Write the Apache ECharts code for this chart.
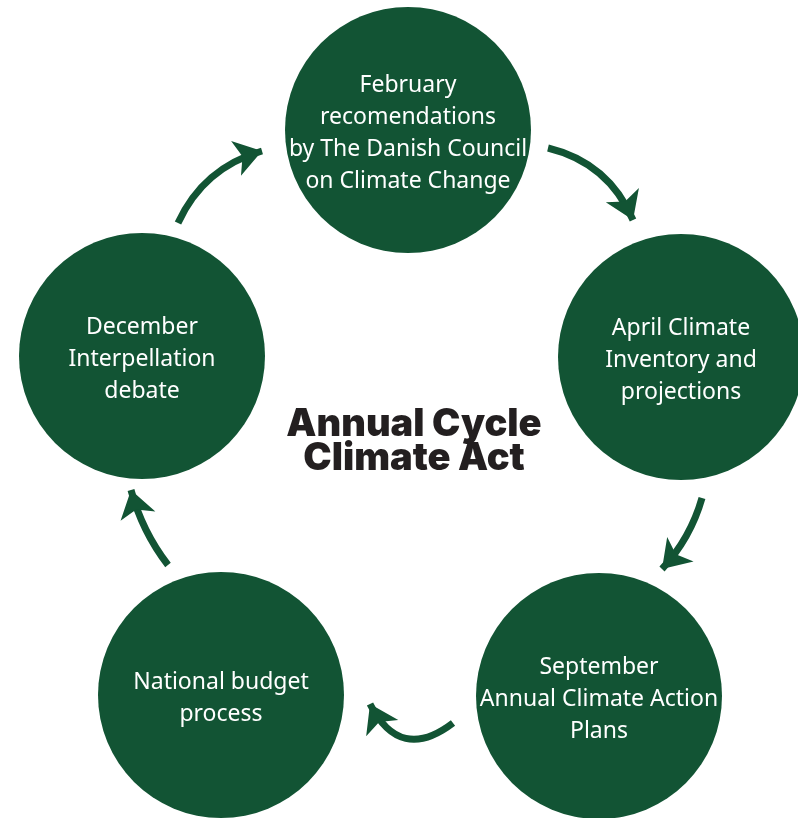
<!DOCTYPE html>
<html>
<head>
<meta charset="utf-8">
<script src="https://cdn.jsdelivr.net/npm/echarts@6/dist/echarts.min.js"></script>
<style>
  html, body { margin: 0; padding: 0; background: #fff; }
  #chart { width: 798px; height: 818px; }
</style>
</head>
<body>
<div id="chart"></div>
<script>
// stages of the yearly cycle, clockwise from the top
const stageNames = [
  'February\nrecomendations\nby The Danish Council\non Climate Change',
  'April Climate\nInventory and\nprojections',
  'September\nAnnual Climate Action\nPlans',
  'National budget\nprocess',
  'December\nInterpellation\ndebate'
];
const stageX = [408, 681, 599, 221, 142];
const stageY = [130, 357, 696, 695, 356];

// arrows between the stages (start point, end point, bend)
const arrowFrom = [[548, 148], [702, 498], [453, 723], [168, 565], [178, 223]];
const arrowTo = [[633, 220], [662, 569], [370, 704], [131, 490], [262, 151]];
const arrowBend = [0.25, 0.12, 0.6, 0.1, 0.23];

const titleText = 'Annual Cycle\nClimate Act';

const green = '#125434';

const chart = echarts.init(document.getElementById('chart'));

chart.setOption({
  animation: false,
  grid: { left: 0, right: 0, top: 0, bottom: 0 },
  xAxis: { type: 'value', min: 0, max: 798, show: false },
  yAxis: { type: 'value', min: 0, max: 818, inverse: true, show: false },
  graphic: [
    {
      type: 'text',
      x: 414,
      y: 442,
      style: {
        text: titleText,
        font: '900 38px Inter, "Liberation Sans", sans-serif',
        fill: '#231f20',
        align: 'center',
        verticalAlign: 'middle',
        lineHeight: 34
      }
    }
  ],
  series: [
    {
      type: 'scatter',
      symbol: 'circle',
      symbolSize: 246,
      itemStyle: { color: green, opacity: 1 },
      label: {
        show: true,
        position: 'inside',
        offset: [0, 3],
        color: '#ffffff',
        fontFamily: '"Noto Sans", sans-serif',
        fontSize: 23,
        lineHeight: 32,
        align: 'center',
        formatter: (p) => p.name
      },
      data: stageNames.map((name, i) => ({ name, value: [stageX[i], stageY[i]] }))
    },
    {
      type: 'lines',
      coordinateSystem: 'cartesian2d',
      symbol: ['none', 'arrow'],
      symbolSize: 27,
      lineStyle: { color: green, width: 7, opacity: 1 },
      data: arrowFrom.map((from, i) => ({
        coords: [from, arrowTo[i]],
        lineStyle: { curveness: arrowBend[i] }
      }))
    }
  ]
});
</script>
</body>
</html>
